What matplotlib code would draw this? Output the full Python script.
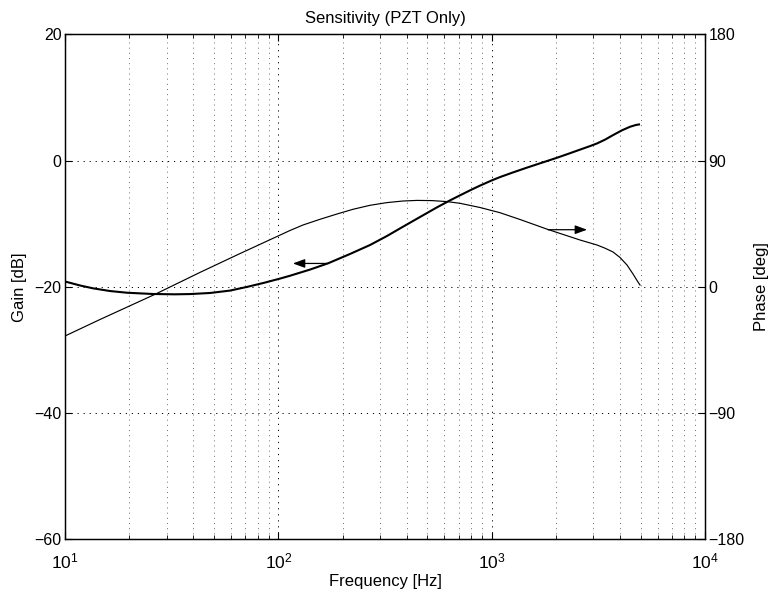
import numpy as np
import matplotlib
matplotlib.use("Agg")
import matplotlib.pyplot as plt
from matplotlib.ticker import LogLocator, NullFormatter, FixedLocator

# Sensitivity gain (thick curve, left axis)
gain_freq = [10, 11.76, 13.53, 16.25, 19.53, 25.85, 32.78, 38.54, 47.83,
             59.35, 72.09, 86.6, 101.8, 113.4, 140.8, 171.0, 216.8, 269.0,
             323.1, 384.1, 461.6, 554.4, 637.9, 710.6, 808.6, 881.7, 1003.7,
             1094, 1259, 1464, 1685, 1877, 2002, 2279, 2595, 2891, 3118, 3399,
             3706, 4082, 4450, 4750, 4959]
gain_db = [-19.16, -19.79, -20.24, -20.67, -20.94, -21.14, -21.19, -21.15,
           -20.98, -20.60, -19.98, -19.33, -18.70, -18.25, -17.27, -16.28,
           -14.80, -13.38, -11.95, -10.48, -8.94, -7.41, -6.31, -5.51, -4.57,
           -3.97, -3.13, -2.62, -1.88, -1.12, -0.44, 0.08, 0.39, 1.05, 1.73,
           2.29, 2.71, 3.31, 4.03, 4.79, 5.35, 5.64, 5.74]

# Sensitivity phase (thin curve, right axis)
phase_freq = [10, 14.59, 26.42, 42.94, 64.71, 113.4, 130.5, 156.8, 188.4,
              223.9, 269.0, 323.1, 384.1, 446.7, 525.2, 617.6, 710.6, 881.7,
              1094, 1358, 1837, 2595, 3118, 3399, 3706, 3996, 4309, 4598,
              4801, 4959]
phase_deg = [-35.07, -23.31, -5.35, 10.27, 23.03, 40.14, 44.06, 48.12, 51.90,
             55.25, 58.10, 60.02, 61.16, 61.59, 61.45, 60.74, 59.52, 56.53,
             52.82, 47.98, 40.85, 33.36, 29.80, 27.52, 24.81, 20.89, 15.54,
             9.13, 4.49, 1.28]

gain_ticks = [-60, -40, -20, 0, 20]
phase_ticks = [-180, -90, 0, 90, 180]
freq_ticks = [1e1, 1e2, 1e3, 1e4]

plt.rcParams.update({
    "font.family": "Liberation Sans",
    "font.size": 11.5,
    "mathtext.fontset": "custom",
    "mathtext.rm": "Liberation Sans",
    "mathtext.it": "Liberation Sans:italic",
    "mathtext.bf": "Liberation Sans:bold",
    "axes.unicode_minus": True,
})

fig = plt.figure(figsize=(7.73, 5.95), dpi=100)
W, H = 773, 595
ax = fig.add_axes([65 / W, 1 - 539.3 / H, 640 / W, 505 / H])

ax.set_xscale("log")
ax.set_xlim(10, 1e4)
ax.set_ylim(-60, 20)
ax.set_xticks(freq_ticks)
ax.xaxis.set_minor_locator(LogLocator(base=10, subs=np.arange(2, 10)))
ax.xaxis.set_minor_formatter(NullFormatter())
ax.yaxis.set_major_locator(FixedLocator(gain_ticks))

dots = (0, (1.2, 5))
ax.grid(True, which="major", linestyle=dots, color="k", linewidth=0.7)
ax.grid(True, which="minor", axis="x", linestyle=dots, color="0.35", linewidth=0.6)

ax.plot(gain_freq, gain_db, color="k", linewidth=1.5,
        solid_joinstyle="round", solid_capstyle="butt")

ax.tick_params(axis="x", which="both", direction="in", top=True, bottom=True,
               labelsize=12.5, pad=9)
ax.tick_params(axis="x", which="major", length=5)
ax.tick_params(axis="x", which="minor", length=3)
ax.tick_params(axis="y", direction="in", length=5, labelsize=11.5, pad=2.5)
for s in ax.spines.values():
    s.set_linewidth(0.9)

ax2 = ax.twinx()
ax2.set_ylim(-180, 180)
ax2.yaxis.set_major_locator(FixedLocator(phase_ticks))
ax2.plot(phase_freq, phase_deg, color="k", linewidth=0.85,
         solid_joinstyle="round")
ax2.tick_params(axis="y", direction="in", length=5, labelsize=11.5, pad=2.5)
for s in ax2.spines.values():
    s.set_linewidth(0.9)

# Arrows pointing each curve to its axis
arrow = dict(arrowstyle="-|>,head_length=0.6,head_width=0.22", color="k",
             linewidth=0.9, mutation_scale=12, shrinkA=0, shrinkB=0)
ax.annotate("", xy=(117, -16.3), xytext=(171, -16.3), arrowprops=arrow)
ax2.annotate("", xy=(2800, 40.7), xytext=(1837, 40.7), arrowprops=arrow)

ax.set_title("Sensitivity (PZT Only)", fontsize=12, pad=8)
ax.set_xlabel("Frequency [Hz]", fontsize=12, labelpad=2)
ax.set_ylabel("Gain [dB]", fontsize=12, labelpad=5)
ax2.set_ylabel("Phase [deg]", fontsize=12, labelpad=7)

fig.savefig("out.png", dpi=100)
